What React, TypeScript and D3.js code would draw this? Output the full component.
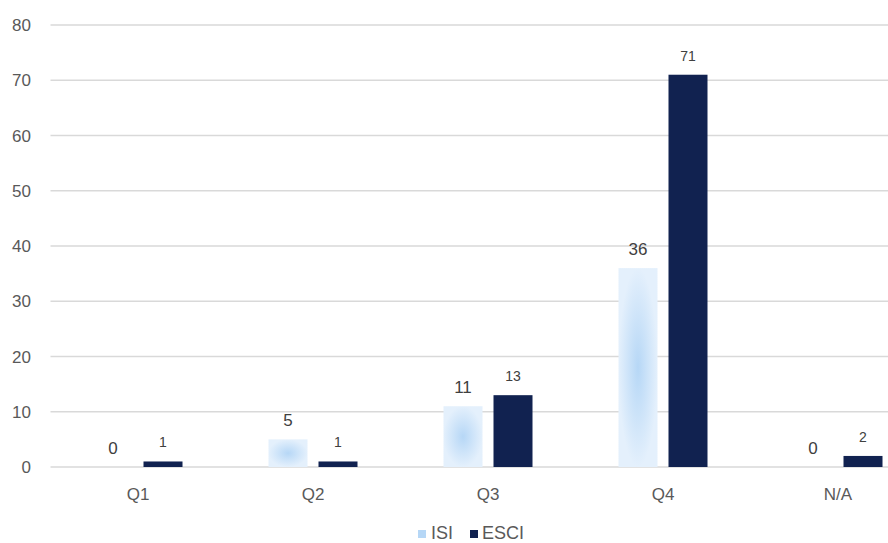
import React from "react";
import * as d3 from "d3";

const categories = ["Q1", "Q2", "Q3", "Q4", "N/A"];
const isiValues = [0, 5, 11, 36, 0];
const esciValues = [1, 1, 13, 71, 2];
const yTicks = [0, 10, 20, 30, 40, 50, 60, 70, 80];
const seriesNames = ["ISI", "ESCI"];

const W = 888;
const H = 543;
const left = 50.5;
const right = 925.5;
const top = 25;
const bottom = 467;
const font = "'Liberation Sans', Arial, sans-serif";
const ESCI_COLOR = "#112250";
const TEXT = "#595959";

export default function App() {
  const x = d3.scaleBand<string>().domain(categories).range([left, right]).paddingInner(0).paddingOuter(0);
  const y = d3.scaleLinear().domain([0, 80]).range([bottom, top]);
  const barW = 39;
  const gap = 11;
  const step = x.bandwidth();
  const groupW = barW * 2 + gap;
  const off = (step - groupW) / 2;

  return (
    <svg width={W} height={H} style={{ position: "absolute", left: 0, top: 0, background: "#fff" }}>
      <defs>
        <radialGradient id="isiGrad" cx="0.5" cy="0.5" r="0.5">
          <stop offset="0%" stopColor="#b6d7f6" />
          <stop offset="100%" stopColor="#e4f0fc" />
        </radialGradient>
      </defs>
      <rect x={0} y={0} width={W} height={H} fill="#fff" />
      {yTicks.map((t) => (
        <g key={t}>
          <line x1={left} x2={right} y1={y(t)} y2={y(t)} stroke="#d9d9d9" strokeWidth={1.3} />
          <text x={31} y={y(t) + 6} textAnchor="end" fontFamily={font} fontSize={17} fill={TEXT}>
            {t}
          </text>
        </g>
      ))}
      {categories.map((c, i) => {
        const x0 = (x(c) as number) + off;
        const x1 = x0 + barW + gap;
        const vi = isiValues[i];
        const ve = esciValues[i];
        return (
          <g key={c}>
            {vi > 0 && (
              <rect x={x0} y={y(vi)} width={barW} height={y(0) - y(vi)} fill="url(#isiGrad)" />
            )}
            <rect x={x1} y={y(ve)} width={barW} height={y(0) - y(ve)} fill={ESCI_COLOR} />
            <text x={x0 + barW / 2} y={y(vi) - 13} textAnchor="middle" fontFamily={font} fontSize={17} fill="#404040">
              {vi}
            </text>
            <text x={x1 + barW / 2} y={y(ve) - 14} textAnchor="middle" fontFamily={font} fontSize={14} fill="#404040">
              {ve}
            </text>
            <text x={(x(c) as number) + step / 2} y={500} textAnchor="middle" fontFamily={font} fontSize={17} fill={TEXT}>
              {c}
            </text>
          </g>
        );
      })}
      <g>
        <rect x={418} y={530} width={8} height={8} fill="#b6d7f6" />
        <text x={431} y={539} fontFamily={font} fontSize={18} fill={TEXT}>{seriesNames[0]}</text>
        <rect x={470} y={530} width={8} height={8} fill={ESCI_COLOR} />
        <text x={482} y={539} fontFamily={font} fontSize={18} fill={TEXT}>{seriesNames[1]}</text>
      </g>
    </svg>
  );
}
